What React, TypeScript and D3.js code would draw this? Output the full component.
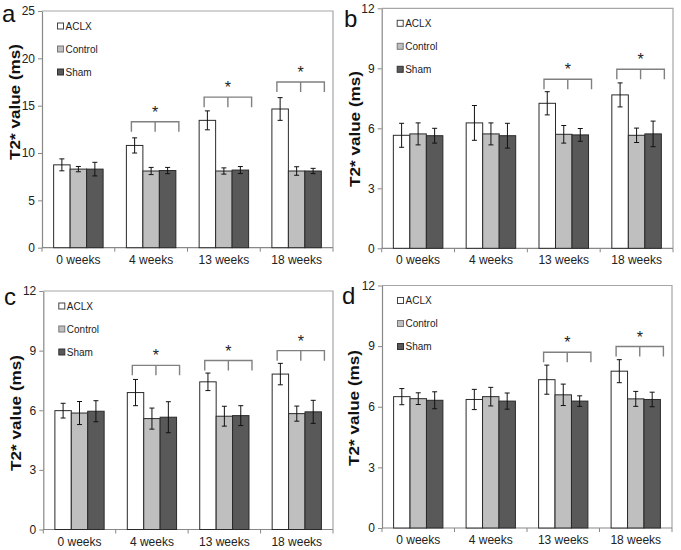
import React, { useEffect, useRef } from 'react';
import * as d3 from 'd3';

const categories = ['0 weeks', '4 weeks', '13 weeks', '18 weeks'];
const seriesNames = ['ACLX', 'Control', 'Sham'];
const seriesFill = ['#ffffff', '#bfbfbf', '#595959'];
const seriesLegendStroke = ['#444', '#777', '#333'];

// panel a
const aTicks = [0, 5, 10, 15, 20, 25];
const aACLX = [8.75, 10.8, 13.45, 14.65];
const aControl = [8.3, 8.1, 8.1, 8.1];
const aSham = [8.3, 8.15, 8.2, 8.1];
const aACLXErr = [0.63, 0.8, 1.0, 1.2];
const aControlErr = [0.28, 0.38, 0.33, 0.45];
const aShamErr = [0.72, 0.33, 0.37, 0.28];
const aBrackets = [null, 13.3, 15.9, 17.5];

// panel b
const bTicks = [0, 3, 6, 9, 12];
const bACLX = [5.65, 6.27, 7.25, 7.67];
const bControl = [5.72, 5.72, 5.7, 5.65];
const bSham = [5.63, 5.63, 5.67, 5.72];
const bACLXErr = [0.6, 0.87, 0.58, 0.6];
const bControlErr = [0.55, 0.55, 0.44, 0.36];
const bShamErr = [0.37, 0.62, 0.32, 0.64];
const bBrackets = [null, null, 8.45, 8.95];

// panel c
const cTicks = [0, 3, 6, 9, 12];
const cACLX = [5.98, 6.89, 7.43, 7.82];
const cControl = [5.86, 5.58, 5.7, 5.83];
const cSham = [5.95, 5.65, 5.73, 5.92];
const cACLXErr = [0.37, 0.66, 0.44, 0.54];
const cControlErr = [0.58, 0.53, 0.5, 0.38];
const cShamErr = [0.53, 0.78, 0.5, 0.58];
const cBrackets = [null, 8.26, 8.5, 9.0];

// panel d
const dTicks = [0, 3, 6, 9, 12];
const dACLX = [6.5, 6.36, 7.34, 7.76];
const dControl = [6.4, 6.5, 6.59, 6.39];
const dSham = [6.32, 6.28, 6.28, 6.36];
const dACLXErr = [0.4, 0.5, 0.72, 0.57];
const dControlErr = [0.29, 0.46, 0.53, 0.37];
const dShamErr = [0.42, 0.4, 0.26, 0.36];
const dBrackets = [null, null, 8.7, 8.98];

const panels = [
  { label: 'a', lx: 2, ly: 22, left: 42, right: 333, top: 11, bottom: 247.7, ticks: aTicks,
    means: [aACLX, aControl, aSham], errs: [aACLXErr, aControlErr, aShamErr], brackets: aBrackets, tx: 15, ty: 102 },
  { label: 'b', lx: 344, ly: 27, left: 381.7, right: 673, top: 8.3, bottom: 248.3, ticks: bTicks,
    means: [bACLX, bControl, bSham], errs: [bACLXErr, bControlErr, bShamErr], brackets: bBrackets, tx: 355, ty: 129 },
  { label: 'c', lx: 4, ly: 305, left: 43.3, right: 333, top: 291, bottom: 529.5, ticks: cTicks,
    means: [cACLX, cControl, cSham], errs: [cACLXErr, cControlErr, cShamErr], brackets: cBrackets, tx: 15.5, ty: 413 },
  { label: 'd', lx: 342, ly: 304, left: 382, right: 672, top: 285.5, bottom: 528, ticks: dTicks,
    means: [dACLX, dControl, dSham], errs: [dACLXErr, dControlErr, dShamErr], brackets: dBrackets, tx: 354, ty: 408 },
];

const font = 'Liberation Sans, Arial, sans-serif';

const App = () => {
  const svgRef = useRef<SVGSVGElement>(null);

  useEffect(() => {
    const svg = d3.select(svgRef.current);
    svg.selectAll('*').remove();

    panels.forEach(p => {
      const g = svg.append('g');
      const yMax = p.ticks[p.ticks.length - 1];
      const y = d3.scaleLinear().domain([0, yMax]).range([p.bottom, p.top]);
      const x = d3.scaleBand().domain(categories).range([p.left, p.right])
        .paddingInner(0.32).paddingOuter(0.16);
      const xs = d3.scaleBand().domain(seriesNames).range([0, x.bandwidth()]);
      const step = (p.right - p.left) / categories.length;

      // frame
      g.append('path')
        .attr('d', `M${p.left},${p.top}H${p.right}V${p.bottom}`)
        .attr('fill', 'none').attr('stroke', '#a6a6a6').attr('stroke-width', 1.2);

      // y axis
      const yAxis = g.append('g')
        .attr('transform', `translate(${p.left},0)`)
        .call(d3.axisLeft(y).tickValues(p.ticks).tickSize(4).tickSizeOuter(0).tickPadding(3));
      yAxis.select('.domain').attr('stroke', '#888').attr('stroke-width', 1.2);
      yAxis.selectAll('.tick line').attr('stroke', '#888');
      yAxis.selectAll('.tick text').attr('font-family', font).attr('font-size', 12).attr('fill', '#222');

      // x axis
      g.append('line')
        .attr('x1', p.left).attr('x2', p.right).attr('y1', p.bottom).attr('y2', p.bottom)
        .attr('stroke', '#888').attr('stroke-width', 1.2);
      d3.range(categories.length + 1).forEach(i => {
        g.append('line')
          .attr('x1', p.left + i * step).attr('x2', p.left + i * step)
          .attr('y1', p.bottom).attr('y2', p.bottom + 4)
          .attr('stroke', '#888');
      });
      categories.forEach(c => {
        g.append('text')
          .attr('x', p.left + categories.indexOf(c) * step + step / 2)
          .attr('y', p.bottom + 16)
          .attr('text-anchor', 'middle')
          .attr('font-family', font).attr('font-size', 12).attr('fill', '#222')
          .text(c);
      });

      // bars + error bars
      seriesNames.forEach((s, si) => {
        categories.forEach((c, ci) => {
          const v = p.means[si][ci];
          const e = p.errs[si][ci];
          const bx = x(c)! + xs(s)!;
          g.append('rect')
            .attr('x', bx).attr('y', y(v))
            .attr('width', xs.bandwidth()).attr('height', y(0) - y(v))
            .attr('fill', seriesFill[si]).attr('stroke', '#2a2a2a').attr('stroke-width', 1);
          const cx = bx + xs.bandwidth() / 2;
          g.append('path')
            .attr('d', `M${cx},${y(v + e)}V${y(v - e)}M${cx - 2.5},${y(v + e)}H${cx + 2.5}M${cx - 2.5},${y(v - e)}H${cx + 2.5}`)
            .attr('fill', 'none').attr('stroke', '#111').attr('stroke-width', 1);
        });
      });

      // significance brackets
      p.brackets.forEach((b, ci) => {
        if (b == null) return;
        const x0 = x(categories[ci])! + 5;
        const x1 = x(categories[ci])! + x.bandwidth() + 3;
        const xm = (x0 + x1) / 2;
        const yt = y(b);
        g.append('path')
          .attr('d', `M${x0},${yt + 10}V${yt}H${x1}V${yt + 10}M${xm},${yt}V${yt + 10}`)
          .attr('fill', 'none').attr('stroke', '#808080').attr('stroke-width', 1.4);
        g.append('text')
          .attr('x', xm).attr('y', yt - 4)
          .attr('text-anchor', 'middle')
          .attr('font-family', font).attr('font-size', 16).attr('fill', '#222')
          .text('*');
      });

      // legend
      seriesNames.forEach((s, si) => {
        const ly = p.top + 15 + si * 23;
        g.append('rect')
          .attr('x', p.left + 15.5).attr('y', ly - 3).attr('width', 6).attr('height', 6)
          .attr('fill', seriesFill[si]).attr('stroke', seriesLegendStroke[si]).attr('stroke-width', 1);
        g.append('text')
          .attr('x', p.left + 23.5).attr('y', ly + 3.5)
          .attr('font-family', font).attr('font-size', 10).attr('fill', '#222')
          .text(s);
      });

      // axis title
      g.append('text')
        .attr('transform', `translate(${p.tx + 5},${p.ty}) rotate(-90)`)
        .attr('text-anchor', 'middle')
        .attr('font-family', font).attr('font-size', 15).attr('font-weight', 'bold').attr('fill', '#111')
        .attr('textLength', 116).attr('lengthAdjust', 'spacingAndGlyphs')
        .text('T2* value (ms)');

      // panel label
      g.append('text')
        .attr('x', p.lx).attr('y', p.ly)
        .attr('font-family', font).attr('font-size', 24).attr('fill', '#111')
        .text(p.label);
    });
  }, []);

  return (
    <svg ref={svgRef} width={681} height={550}
      style={{ position: 'absolute', left: 0, top: 0, background: '#fff' }} />
  );
};

export default App;
